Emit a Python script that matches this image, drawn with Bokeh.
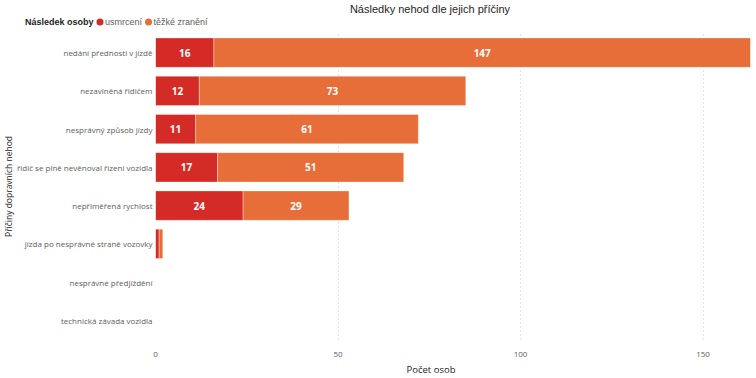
from bokeh.plotting import figure
from bokeh.layouts import column
from bokeh.models import ColumnDataSource, Title, Div
from bokeh.core.properties import value
from bokeh.embed import file_html
from bokeh.resources import INLINE

categories = ["nedání přednosti v jízdě", "nezaviněná řidičem", "nesprávný způsob jízdy",
              "řidič se plně nevěnoval řízení vozidla", "nepřiměřená rychlost",
              "jízda po nesprávné straně vozovky", "nesprávné předjíždění",
              "technická závada vozidla"]
usmrceni = [16, 12, 11, 17, 24, 1, 0, 0]
tezke_zraneni = [147, 73, 61, 51, 29, 1, 0, 0]
series_names = ["usmrcení", "těžké zranění"]
legend_title = "Následek osoby"
chart_title = "Následky nehod dle jejich příčiny"
x_ticks = [0, 50, 100, 150]
x_max = 163

RED = "#D42B26"
ORANGE = "#E76E38"
FONT = "Open Sans"
TXT = "#252423"
TICK = "#605E5C"

W = 756
HH = 33          # header height
MH = 344         # main figure height

# ---------------- header: title + legend (inline svg text) ----------------
db = 'dominant-baseline="central"'
hdr_svg = f"""<svg xmlns="http://www.w3.org/2000/svg" width="{W}" height="{HH}" style="display:block">
<g font-family="{FONT}">
<text x="430" y="9" {db} font-size="11" fill="{TXT}" text-anchor="middle">{chart_title}</text>
<text x="25" y="22" {db} font-size="9" font-weight="bold" fill="{TXT}">{legend_title}</text>
<circle cx="100" cy="22" r="3.5" fill="{RED}"/>
<text x="105" y="22" {db} font-size="9" fill="{TICK}">{series_names[0]}</text>
<circle cx="148.5" cy="22" r="3.5" fill="{ORANGE}"/>
<text x="153.5" y="22" {db} font-size="9" fill="{TICK}">{series_names[1]}</text>
</g></svg>"""
hdr = Div(text=hdr_svg, width=W, height=HH, margin=0,
          styles={"margin": "0", "padding": "0", "line-height": "0"})

# ---------------- main chart ----------------
source = ColumnDataSource(dict(cat=categories, usmrceni=usmrceni, tezke=tezke_zraneni))

p = figure(width=W, height=MH, y_range=list(reversed(categories)), x_range=(0, x_max),
           output_backend="svg", toolbar_location=None, margin=0,
           min_border_left=155, min_border_right=6, min_border_top=0, min_border_bottom=37)

p.hbar_stack(["usmrceni", "tezke"], y="cat", height=0.77, source=source,
             color=[RED, ORANGE], line_color="white", line_alpha=0.35, line_width=1)

# data labels
lx, ly, lt = [], [], []
for c, u, t in zip(categories, usmrceni, tezke_zraneni):
    if u >= 5:
        lx.append(u / 2); ly.append(c); lt.append(str(u))
    if t >= 5:
        lx.append(u + t / 2); ly.append(c); lt.append(str(t))
p.text(x=lx, y=ly, text=lt, text_color="white", text_font=value(FONT), text_font_size="10px",
       text_font_style="bold", text_align="center", text_baseline="middle")

p.xaxis.ticker = x_ticks
for ax in (p.xaxis[0], p.yaxis[0]):
    ax.axis_line_color = None
    ax.major_tick_line_color = None
    ax.minor_tick_line_color = None
    ax.major_tick_out = 0
    ax.major_tick_in = 0
    ax.minor_tick_out = 0
    ax.minor_tick_in = 0
    ax.major_label_text_font = FONT
    ax.major_label_text_color = TICK
    ax.major_label_text_font_size = "8px"
p.xaxis.major_label_standoff = 12
p.yaxis.major_label_standoff = 3

p.xgrid.grid_line_color = "#C8C6C4"
p.xgrid.grid_line_dash = "1 3"
p.ygrid.grid_line_color = None
p.outline_line_color = None

p.add_layout(Title(text="Počet osob", align="left", offset=251, standoff=3,
                   text_font=FONT, text_font_size="9.5px", text_font_style="normal",
                   text_color=TXT), "below")
p.add_layout(Title(text="Příčiny dopravních nehod", align="center", standoff=0,
                   text_font=FONT, text_font_size="8.5px", text_font_style="normal",
                   text_color=TXT), "left")

layout = column(hdr, p, spacing=0)
open("out.html", "w").write(file_html(layout, INLINE))
